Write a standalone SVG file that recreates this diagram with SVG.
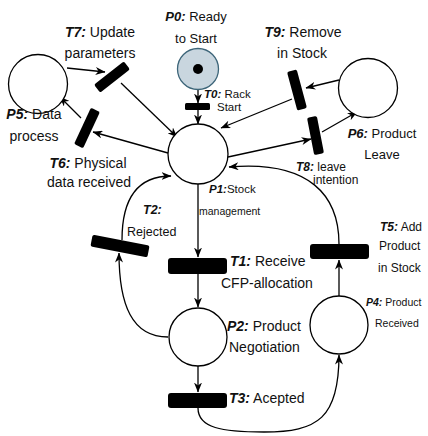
<svg xmlns="http://www.w3.org/2000/svg" width="428" height="436" viewBox="0 0 428 436">
  <defs>
    <marker id="arrow" viewBox="0 0 10 8" markerWidth="10" markerHeight="8" refX="9.5" refY="4" orient="auto" markerUnits="userSpaceOnUse">
      <path d="M0,0 L10,4 L0,8 L3,4 Z" fill="#000"/>
    </marker>
    <style>
      .place { fill: #fff; stroke: #000; stroke-width: 1.3; }
      .start { fill: #c9d6df; stroke: #3d6579; stroke-width: 1.3; }
      .trans { fill: #000; }
      .edge { fill: none; stroke: #000; stroke-width: 1.3; marker-end: url(#arrow); }
      text { font-family: "Liberation Sans", Arial, sans-serif; fill: #111; }
      .lg { font-size: 14px; }
      .md { font-size: 13px; }
      .sm { font-size: 11.5px; }
      .xs { font-size: 10.5px; }
      .b { font-weight: bold; font-style: italic; }
    </style>
  </defs>

  <rect width="428" height="436" fill="#fff"/>

  <!-- arcs between places and transitions -->
  <g id="connectors">
    <line class="edge" x1="198" y1="90" x2="198" y2="103"/>
    <line class="edge" x1="198" y1="110" x2="198" y2="124"/>
    <line class="edge" x1="67" y1="68" x2="105" y2="72"/>
    <line class="edge" x1="121" y1="83" x2="177" y2="137"/>
    <line class="edge" x1="168" y1="153" x2="93" y2="132"/>
    <line class="edge" x1="81" y1="118" x2="60" y2="97"/>
    <line class="edge" x1="339" y1="80" x2="306" y2="88"/>
    <line class="edge" x1="292" y1="99" x2="221" y2="128"/>
    <line class="edge" x1="228" y1="157" x2="311" y2="139"/>
    <line class="edge" x1="322" y1="132" x2="357" y2="112"/>
    <line class="edge" x1="198" y1="184" x2="198" y2="257"/>
    <line class="edge" x1="198" y1="274" x2="198" y2="307"/>
    <line class="edge" x1="198" y1="366" x2="198" y2="392"/>
    <path class="edge" d="M168,337 C132,337 119,305 119,253"/>
    <path class="edge" d="M122,240 C122,196 140,176 171,176"/>
    <path class="edge" d="M198,408 C198,428 222,432 264,432 C318,432 339,418 339,355"/>
    <line class="edge" x1="339" y1="296" x2="339" y2="260"/>
    <path class="edge" d="M339,244 C339,196 310,160 229,167"/>
  </g>

  <g id="P0">
    <circle class="start" cx="198" cy="69" r="20.5"/>
    <circle cx="198" cy="69" r="5" fill="#000"/>
    <text class="md" x="196" y="21" text-anchor="middle"><tspan class="b">P0:</tspan> Ready</text>
    <text class="md" x="196" y="43" text-anchor="middle">to Start</text>
  </g>

  <g id="T0">
    <rect class="trans" x="185" y="103" width="25" height="7" rx="1.5"/>
    <text class="sm" x="204" y="98"><tspan class="b">T0:</tspan> Rack</text>
    <text class="sm" x="217" y="111">Start</text>
  </g>

  <g id="P1">
    <circle class="place" cx="198" cy="154" r="30"/>
    <text class="sm" x="209" y="193"><tspan class="b">P1:</tspan>Stock</text>
    <text class="xs" x="199" y="215">management</text>
  </g>

  <g id="P5">
    <circle class="place" cx="38" cy="84" r="29.5"/>
    <text class="lg" x="34" y="119" text-anchor="middle"><tspan class="b">P5:</tspan> Data</text>
    <text class="lg" x="34" y="141" text-anchor="middle">process</text>
  </g>

  <g id="T7">
    <rect class="trans" x="-19" y="-5" width="38" height="10" rx="2" transform="translate(112 77) rotate(-38)"/>
    <text class="lg" x="100" y="37" text-anchor="middle"><tspan class="b">T7:</tspan> Update</text>
    <text class="lg" x="100" y="58" text-anchor="middle">parameters</text>
  </g>

  <g id="T6">
    <rect class="trans" x="-20" y="-5" width="40" height="10" rx="2" transform="translate(87 128) rotate(-65)"/>
    <text class="lg" x="88" y="168" text-anchor="middle"><tspan class="b">T6:</tspan> Physical</text>
    <text class="lg" x="89" y="187" text-anchor="middle">data received</text>
  </g>

  <g id="P6">
    <circle class="place" cx="368" cy="88" r="29.5"/>
    <text class="md" x="382" y="138" text-anchor="middle"><tspan class="b">P6:</tspan> Product</text>
    <text class="md" x="382" y="159" text-anchor="middle">Leave</text>
  </g>

  <g id="T9">
    <rect class="trans" x="-20" y="-5" width="40" height="10" rx="2" transform="translate(297 90) rotate(75)"/>
    <text class="lg" x="303" y="37" text-anchor="middle"><tspan class="b">T9:</tspan> Remove</text>
    <text class="lg" x="302" y="58" text-anchor="middle">in Stock</text>
  </g>

  <g id="T8">
    <rect class="trans" x="-19" y="-5" width="38" height="10" rx="2" transform="translate(315.5 135.5) rotate(79)"/>
    <text style="font-size:12px" x="296" y="171"><tspan class="b">T8:</tspan> leave</text>
    <text style="font-size:12px" x="313" y="184">intention</text>
  </g>

  <g id="T2">
    <rect class="trans" x="-29" y="-6" width="58" height="12" rx="2" transform="translate(120 246) rotate(11)"/>
    <text style="font-size:12.5px" x="143" y="214"><tspan class="b">T2:</tspan></text>
    <text style="font-size:12.5px" x="127" y="236">Rejected</text>
  </g>

  <g id="T1">
    <rect class="trans" x="168" y="258" width="59" height="16" rx="3"/>
    <text class="lg" x="230" y="266"><tspan class="b">T1:</tspan> Receive</text>
    <text class="lg" x="221" y="288">CFP-allocation</text>
  </g>

  <g id="P2">
    <circle class="place" cx="198" cy="337" r="29"/>
    <text class="lg" x="227" y="331"><tspan class="b">P2:</tspan> Product</text>
    <text class="lg" x="229" y="352">Negotiation</text>
  </g>

  <g id="T3">
    <rect class="trans" x="168" y="393" width="59" height="15" rx="3"/>
    <text class="lg" x="229" y="403"><tspan class="b">T3:</tspan> Acepted</text>
  </g>

  <g id="P4">
    <circle class="place" cx="339" cy="325" r="29"/>
    <text class="xs" x="366" y="306"><tspan class="b">P4:</tspan> Product</text>
    <text class="xs" x="375" y="327">Received</text>
  </g>

  <g id="T5">
    <rect class="trans" x="310" y="244" width="59" height="15" rx="3"/>
    <text style="font-size:12px" x="380" y="231"><tspan class="b">T5:</tspan> Add</text>
    <text style="font-size:12px" x="379" y="250">Product</text>
    <text style="font-size:12px" x="378" y="272">in Stock</text>
  </g>
</svg>
